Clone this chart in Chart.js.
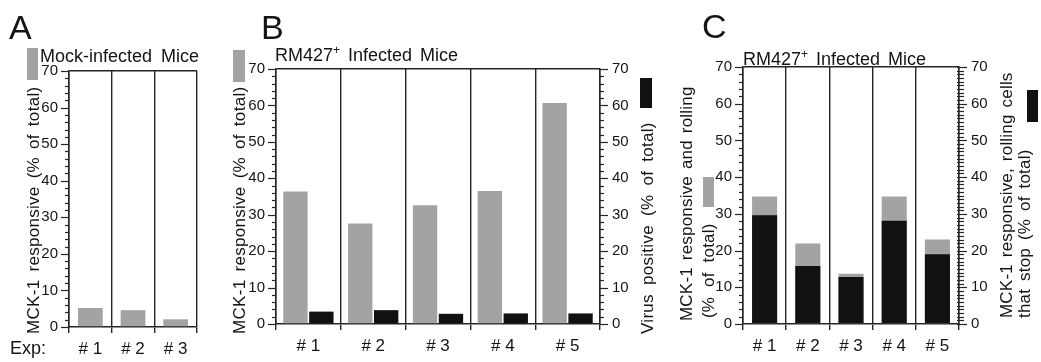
<!DOCTYPE html>
<html><head><meta charset="utf-8">
<script src="https://cdn.jsdelivr.net/npm/chart.js@4/dist/chart.umd.min.js"></script>
<style>
html,body{margin:0;padding:0;background:#fff;}
body{width:1041px;height:362px;position:relative;overflow:hidden;font-family:"Liberation Sans",Arial,sans-serif;color:#141414;}
.box{position:absolute;top:0;height:362px;}
.t{position:absolute;white-space:nowrap;line-height:1;}
.rot{transform:rotate(-90deg);transform-origin:left top;}
.sq{position:absolute;}
</style></head><body>

<div class="box" style="left:0;width:200px"><canvas id="cA" width="200" height="362"></canvas></div>
<div class="box" style="left:210px;width:430px"><canvas id="cB" width="430" height="362"></canvas></div>
<div class="box" style="left:700px;width:300px"><canvas id="cC" width="300" height="362"></canvas></div>

<div class="t" style="left:9px;top:10px;font-size:34px">A</div>
<div class="t" style="left:261px;top:10px;font-size:34px">B</div>
<div class="t" style="left:702px;top:9px;font-size:34px">C</div>

<div class="t" style="left:40px;top:47px;font-size:18px;word-spacing:4px">Mock-infected Mice</div>
<div class="t" style="left:275px;top:46px;font-size:18px;word-spacing:3px">RM427<sup style="font-size:12px;vertical-align:7px;line-height:0">+</sup> Infected Mice</div>
<div class="t" style="left:743px;top:50px;font-size:18px;word-spacing:3px">RM427<sup style="font-size:12px;vertical-align:7px;line-height:0">+</sup> Infected Mice</div>
<div class="t" style="left:10px;top:339px;font-size:18px">Exp:</div>

<div class="sq" style="left:27px;top:48px;width:11px;height:32px;background:#a3a3a3"></div>
<div class="t rot" style="left:25px;top:334px;font-size:17px;letter-spacing:0.3px;word-spacing:3px">MCK-1 responsive (% of total)</div>

<div class="sq" style="left:233px;top:50px;width:12px;height:32px;background:#a3a3a3"></div>
<div class="t rot" style="left:231px;top:334px;font-size:17px;letter-spacing:0.3px;word-spacing:3px">MCK-1 responsive (% of total)</div>

<div class="sq" style="left:640px;top:78px;width:12px;height:30px;background:#111"></div>
<div class="t rot" style="left:639px;top:334px;font-size:17px;letter-spacing:0.3px;word-spacing:4px">Virus positive (% of total)</div>

<div class="t rot" style="left:678px;top:321px;font-size:17px;letter-spacing:0.2px;word-spacing:2px">MCK-1 responsive and rolling</div>
<div class="t rot" style="left:700px;top:318px;font-size:17px;letter-spacing:0.2px;word-spacing:5px">(% of total)</div>
<div class="sq" style="left:703px;top:177px;width:11px;height:30px;background:#a3a3a3"></div>

<div class="t rot" style="left:998px;top:318px;font-size:17px;letter-spacing:0.2px;word-spacing:2px">MCK-1 responsive, rolling cells</div>
<div class="t rot" style="left:1016px;top:318px;font-size:17px;letter-spacing:0.2px;word-spacing:3px">that stop (% of total)</div>
<div class="sq" style="left:1027px;top:90px;width:11px;height:32px;background:#111"></div>

<script>
// ---- data ----
const catsA = ['# 1', '# 2', '# 3'];
const mockResponsive = [5.2, 4.6, 2.1];

const catsB = ['# 1', '# 2', '# 3', '# 4', '# 5'];
const infectedResponsive = [36.4, 27.6, 32.6, 36.5, 60.7];
const virusPositive = [3.4, 3.8, 2.8, 2.9, 2.9];

const catsC = ['# 1', '# 2', '# 3', '# 4', '# 5'];
const responsiveRolling = [34.7, 21.9, 13.7, 34.7, 23.0];
const rollingThatStop = [29.6, 15.8, 12.8, 28.1, 19.0];

const yTickValues = [0, 10, 20, 30, 40, 50, 60, 70];

// ---- style ----
const LINE = '#252525';
const TXT = '#141414';
const GRAY = '#a3a3a3';
const BLACK = '#111111';
const FONT = '"Liberation Sans", Arial, sans-serif';

function minorTicks(cfg) {
  return {
    id: 'minorTicks',
    afterDraw(chart) {
      const ctx = chart.ctx;
      ctx.save();
      ctx.strokeStyle = LINE;
      ctx.lineWidth = 1.2;
      for (const id in cfg) {
        const s = chart.scales[id];
        const c = cfg[id];
        const left = c.side === 'left';
        const x = left ? chart.chartArea.left : chart.chartArea.right;
        const dir = left ? -1 : 1;
        for (let v = s.min; v <= s.max + 1e-9; v += c.step) {
          const y = Math.round(s.getPixelForValue(v)) + 0.5;
          const major = Math.abs(v % 10) < 1e-6 || Math.abs(v % 10 - 10) < 1e-6;
          const len = major ? c.major : c.minor;
          ctx.beginPath();
          ctx.moveTo(x - dir * c.inner, y);
          ctx.lineTo(x + dir * len, y);
          ctx.stroke();
        }
      }
      ctx.restore();
    }
  };
}

function yScale(pos, width, pad, showTop) {
  return {
    type: 'linear', position: pos, min: 0, max: 70,
    afterBuildTicks(s) { s.ticks = yTickValues.map(v => ({ value: v })); },
    afterFit(s) { s.width = width; },
    grid: {
      drawTicks: false,
      drawOnChartArea: showTop,
      color: c => (c.tick && c.tick.value === 70) ? LINE : 'rgba(0,0,0,0)',
      lineWidth: 1.5
    },
    border: { display: true, color: LINE, width: 1.5 },
    ticks: { padding: pad, color: TXT, font: { size: 15, family: FONT } }
  };
}

function xScale(labels, height) {
  return {
    type: 'category', labels: labels, offset: true,
    afterFit(s) { s.height = height; },
    grid: { offset: true, color: LINE, lineWidth: 1.4, drawTicks: true, tickLength: 6, tickColor: LINE, tickWidth: 1.4 },
    border: { display: true, color: LINE, width: 1.5 },
    ticks: { padding: 6, color: TXT, font: { size: 17, family: FONT }, maxRotation: 0, autoSkip: false }
  };
}

function base(padding) {
  return {
    responsive: false, animation: false, events: [],
    layout: { padding: padding },
    plugins: { legend: { display: false }, tooltip: { enabled: false }, title: { display: false } }
  };
}

// Panel A
new Chart(document.getElementById('cA'), {
  type: 'bar',
  data: { labels: catsA, datasets: [
    { data: mockResponsive, backgroundColor: GRAY, borderWidth: 0, categoryPercentage: 1, barPercentage: 0.58 }
  ] },
  options: Object.assign(base({ left: 0, right: 3, top: 71, bottom: 0 }), {
    scales: { x: xScale(catsA, 35), y: yScale('left', 69, 11, true) }
  }),
  plugins: [minorTicks({ y: { side: 'left', step: 2, major: 8, minor: 4, inner: 0 } })]
});

// Panel B
new Chart(document.getElementById('cB'), {
  type: 'bar',
  data: { labels: catsB, datasets: [
    { data: infectedResponsive, yAxisID: 'y', backgroundColor: GRAY, borderWidth: 0, categoryPercentage: 0.8, barPercentage: 0.94 },
    { data: virusPositive, yAxisID: 'y2', backgroundColor: BLACK, borderWidth: 0, categoryPercentage: 0.8, barPercentage: 0.94 }
  ] },
  options: Object.assign(base({ left: 0, right: 0, top: 69, bottom: 0 }), {
    scales: { x: xScale(catsB, 38), y: yScale('left', 66, 11, true), y2: yScale('right', 40, 12, false) }
  }),
  plugins: [minorTicks({
    y: { side: 'left', step: 2, major: 8, minor: 4, inner: 0 },
    y2: { side: 'right', step: 2, major: 8, minor: 4, inner: 0 }
  })]
});

// Panel C
new Chart(document.getElementById('cC'), {
  type: 'bar',
  data: { labels: catsC, datasets: [
    { data: rollingThatStop, yAxisID: 'y2', backgroundColor: BLACK, borderWidth: 0, grouped: false, order: 0, categoryPercentage: 1, barPercentage: 0.58 },
    { data: responsiveRolling, yAxisID: 'y', backgroundColor: GRAY, borderWidth: 0, grouped: false, order: 1, categoryPercentage: 1, barPercentage: 0.58 }
  ] },
  options: Object.assign(base({ left: 0, right: 0, top: 67, bottom: 0 }), {
    scales: { x: xScale(catsC, 38), y: yScale('left', 43, 11, true), y2: yScale('right', 41, 12, false) }
  }),
  plugins: [minorTicks({
    y: { side: 'left', step: 2, major: 8, minor: 4, inner: 0 },
    y2: { side: 'right', step: 1, major: 8, minor: 5, inner: 2 }
  })]
});
</script>
</body></html>
